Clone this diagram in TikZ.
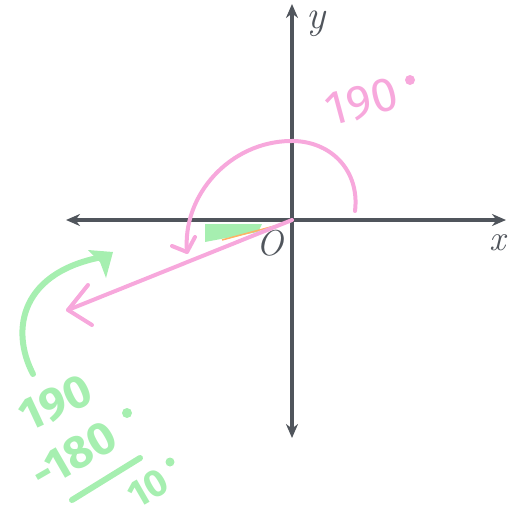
\documentclass[tikz,border=0pt]{standalone}
\usepackage{fontspec}
\setsansfont{Fira Sans}
\usetikzlibrary{arrows.meta}
\definecolor{axisgray}{HTML}{50555C}
\definecolor{pinkink}{HTML}{F7A8DC}
\definecolor{greenink}{HTML}{A6EFB0}
\tikzset{
  axis/.style={line width=3.5pt, draw=axisgray, {Stealth[length=14pt,width=12pt]}-{Stealth[length=14pt,width=12pt]}},
  pinkline/.style={line width=4pt, draw=pinkink, line cap=round, line join=round},
  greenline/.style={line width=6pt, draw=greenink, line cap=round, line join=round},
  axlabel/.style={font=\fontsize{36}{36}\selectfont\itshape, text=axisgray, inner sep=0pt},
  pinktext/.style={font=\sffamily\fontsize{48}{48}\selectfont, text=pinkink, inner sep=0pt},
  greentext/.style={font=\sffamily\bfseries\fontsize{46}{46}\selectfont, text=greenink, inner sep=0pt}
}
\begin{document}
\begin{tikzpicture}[x=1pt,y=-1pt]
\useasboundingbox (0,0) rectangle (510,514);
\coordinate (O) at (292,220);
\coordinate (xl) at (66,220);
\coordinate (xr) at (506,220);
\coordinate (yt) at (292,4);
\coordinate (yb) at (292,438);
% green highlight in the small angle
\fill[greenink] (205,224) -- (262,224) -- (258,232) -- (205,242) -- cycle;
\draw[line width=1.5pt, draw=orange!60] (222,240) -- (282,224);
% axes
\draw[axis] (xl) -- (xr);
\draw[axis] (yb) -- (yt);
\node[axlabel, font=\fontsize{40}{40}\selectfont\itshape] (ylab) at (316,24) {y};
\node[axlabel] (xlab) at (498,243) {x};
\node[axlabel] (olab) at (270,243) {O};
% pink ray
\coordinate (rayend) at (68,310);
\draw[pinkline] (O) -- (rayend);
\draw[pinkline] (88,285) -- (rayend) -- (92,325);
% pink arc
\coordinate (arcstart) at (355,211);
\coordinate (arcend) at (187,252);
\draw[pinkline] (arcstart) .. controls (360,170) and (330,140) .. (290,141)
  .. controls (230,142) and (182,195) .. (arcend);
\draw[pinkline] (172,246) -- (arcend) -- (195,237);
\node[pinktext, rotate=15] (pink190) at (362,102) {190};
\fill[pinkink] (410,80) circle (5);
% green arc
\coordinate (gstart) at (33,374);
\coordinate (gend) at (108,256);
\draw[greenline] (gstart) .. controls (10,330) and (20,270) .. (gend);
\fill[greenink] (88,250) -- (113,252) -- (106,278) -- (100,262) -- cycle;
% green calculation
\node[greentext, rotate=25] (g190) at (56,403) {190};
\node[greentext, rotate=30] (g180) at (74,455) {-180};
\fill[greenink] (127,413) circle (5);
\draw[greenline] (72,500) -- (140,458);
\node[greentext, font=\sffamily\bfseries\fontsize{38}{38}\selectfont, rotate=30] (g10) at (148,488) {10};
\fill[greenink] (170,462) circle (4.5);
\end{tikzpicture}
\end{document}
